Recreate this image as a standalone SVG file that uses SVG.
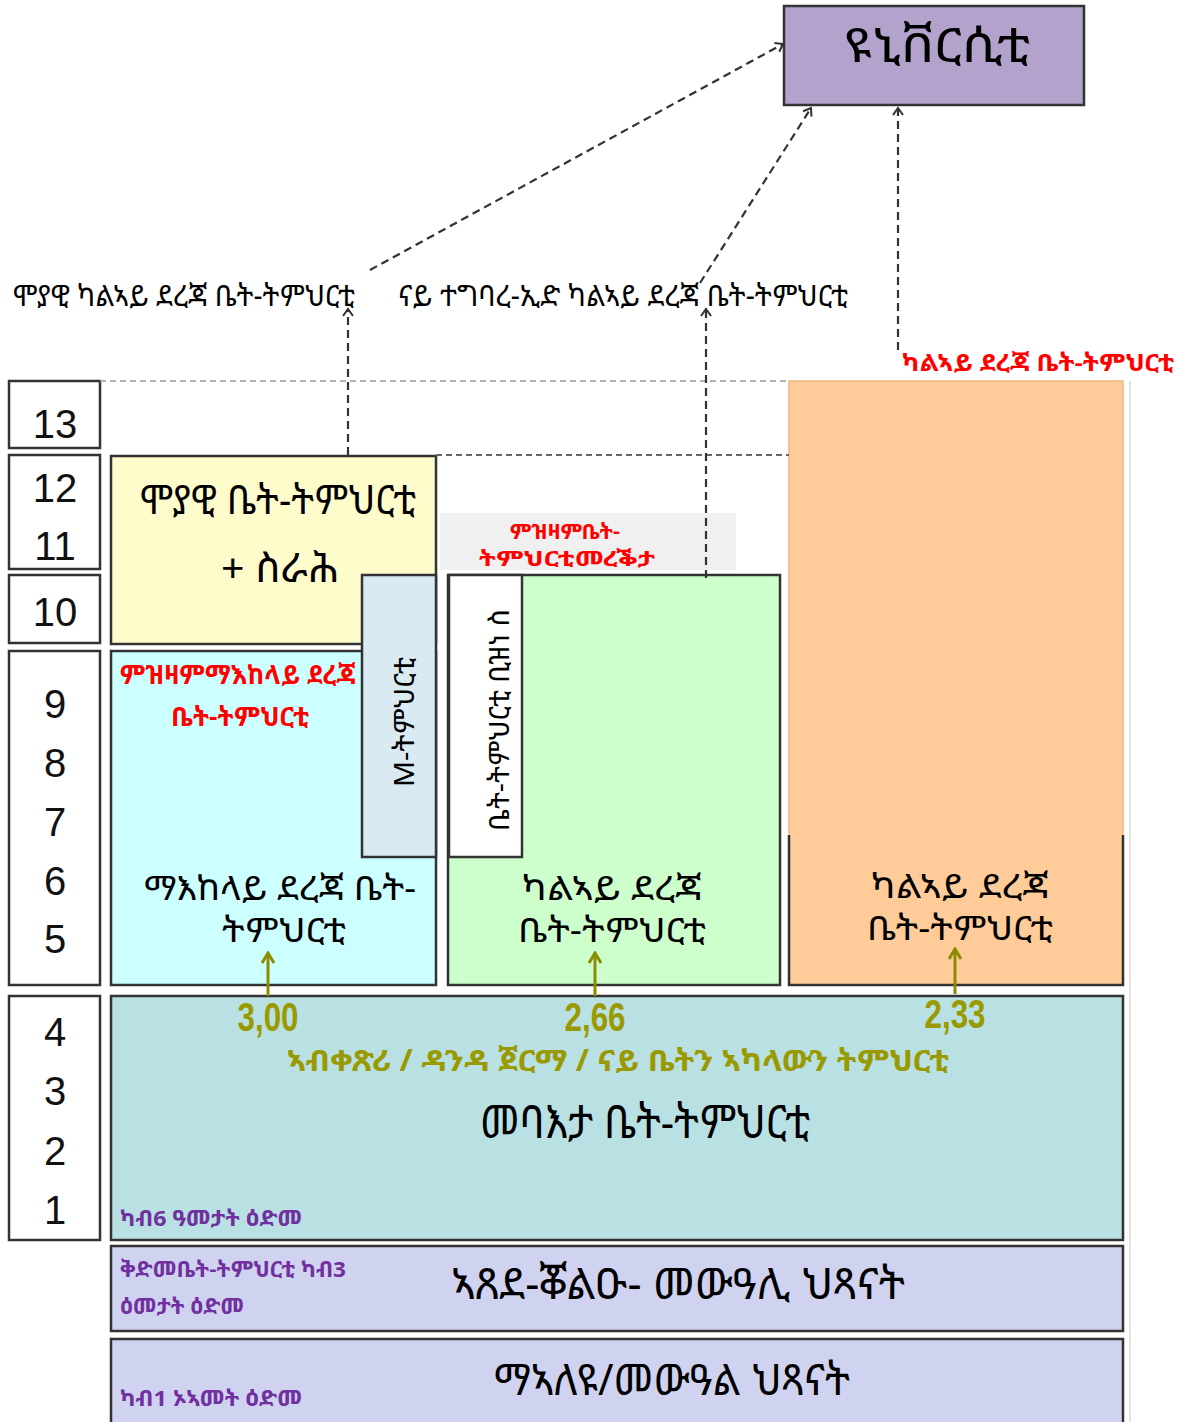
<svg xmlns="http://www.w3.org/2000/svg" width="1194" height="1422" viewBox="0 0 1194 1422">
<style>
.et{font-family:"Noto Sans Ethiopic","Abyssinica SIL","DejaVu Sans","Noto Sans",sans-serif}
.box{stroke:#333;stroke-width:2.5}
.num{font-family:"Liberation Sans",Arial,sans-serif;font-size:40px;fill:#111;text-anchor:middle}
.big{font-size:40px;fill:#000;text-anchor:middle}
.two{font-size:34px;fill:#000;text-anchor:middle}
.lbl{font-size:30px;fill:#000}
.red{fill:#ff0000;font-weight:bold}
.pur{fill:#7030a0;font-size:22px;font-weight:bold}
.ol{fill:#999900;font-weight:bold}
.dash{fill:none;stroke:#333;stroke-width:2.2;stroke-dasharray:8 5}
.olarrow{stroke:#8c8c00;stroke-width:3;fill:none}
</style>
<defs>
<marker id="chev" viewBox="0 0 12 12" refX="10" refY="6" markerWidth="12" markerHeight="12" markerUnits="userSpaceOnUse" orient="auto">
<path d="M3,1 L10,6 L3,11" fill="none" stroke="#333" stroke-width="2"/>
</marker>
<marker id="olh" viewBox="0 0 14 14" refX="12" refY="7" markerWidth="14" markerHeight="14" markerUnits="userSpaceOnUse" orient="auto">
<path d="M2,1 L12,7 L2,13" fill="none" stroke="#8c8c00" stroke-width="3"/>
</marker>
</defs>
<rect width="1194" height="1422" fill="#fff"/>

<g id="grades">
<rect x="9" y="381" width="91" height="67" fill="#fff" class="box"/>
<rect x="9" y="455" width="91" height="114" fill="#fff" class="box"/>
<rect x="9" y="575" width="91" height="68" fill="#fff" class="box"/>
<rect x="9" y="651" width="91" height="334" fill="#fff" class="box"/>
<rect x="9" y="996" width="91" height="244" fill="#fff" class="box"/>
<text class="num" x="55" y="438">13</text>
<text class="num" x="55" y="502">12</text>
<text class="num" x="55" y="560">11</text>
<text class="num" x="55" y="626">10</text>
<text class="num" x="55" y="718">9</text>
<text class="num" x="55" y="777">8</text>
<text class="num" x="55" y="836">7</text>
<text class="num" x="55" y="895">6</text>
<text class="num" x="55" y="953">5</text>
<text class="num" x="55" y="1046">4</text>
<text class="num" x="55" y="1105">3</text>
<text class="num" x="55" y="1165">2</text>
<text class="num" x="55" y="1224">1</text>
</g>

<line x1="1130" y1="381" x2="1130" y2="1422" stroke="#e4e4e4" stroke-width="2"/>

<g id="university">
<rect x="784" y="6" width="300" height="99" fill="#b3a2cb" class="box"/>
<text class="et" x="937" y="62" font-size="48" text-anchor="middle" fill="#000" textLength="186" lengthAdjust="spacingAndGlyphs">ዩኒቨርሲቲ</text>
</g>

<g id="labels-top">
<text class="et lbl" x="13" y="306" textLength="342" lengthAdjust="spacingAndGlyphs">ሞያዊ ካልኣይ ደረጃ ቤት-ትምህርቲ</text>
<text class="et lbl" x="398" y="306" textLength="450" lengthAdjust="spacingAndGlyphs">ናይ ተግባረ-ኢድ ካልኣይ ደረጃ ቤት-ትምህርቲ</text>
<text class="et red" x="902" y="371" font-size="24" textLength="272" lengthAdjust="spacingAndGlyphs">ካልኣይ ደረጃ ቤት-ትምህርቲ</text>
</g>

<g id="orange">
<rect x="789" y="381" width="334" height="604" fill="#ffcc99" stroke="#f0b880" stroke-width="1.5"/>
<path d="M789,835 V985 H1123 V835" fill="none" stroke="#333" stroke-width="2.5"/>
<text class="et two" x="960" y="898" textLength="178" lengthAdjust="spacingAndGlyphs">ካልኣይ ደረጃ</text>
<text class="et two" x="960" y="940" textLength="186" lengthAdjust="spacingAndGlyphs">ቤት-ትምህርቲ</text>
</g>

<g id="yellow">
<rect x="111" y="456" width="325" height="188" fill="#fffccc" class="box"/>
<text class="et big" x="278" y="514" textLength="276" lengthAdjust="spacingAndGlyphs">ሞያዊ ቤት-ትምህርቲ</text>
<text class="et big" x="280" y="582" textLength="118" lengthAdjust="spacingAndGlyphs">+ ስራሕ</text>
</g>

<g id="cyan">
<rect x="111" y="651" width="325" height="334" fill="#ccffff" class="box"/>
<text class="et red" x="120" y="684" font-size="26" textLength="236" lengthAdjust="spacingAndGlyphs">ምዝዛምማእከላይ ደረጃ</text>
<text class="et red" x="240" y="726" font-size="26" text-anchor="middle" textLength="138" lengthAdjust="spacingAndGlyphs">ቤት-ትምህርቲ</text>
<text class="et two" x="280" y="900" textLength="272" lengthAdjust="spacingAndGlyphs">ማእከላይ ደረጃ ቤት-</text>
<text class="et two" x="284" y="942" textLength="124" lengthAdjust="spacingAndGlyphs">ትምህርቲ</text>
</g>

<g id="mschool">
<rect x="362" y="575" width="74" height="282" fill="#daeaf2" class="box"/>
<text class="et" transform="translate(414,722) rotate(-90)" font-size="28" text-anchor="middle" fill="#000" textLength="130" lengthAdjust="spacingAndGlyphs">M-ትምህርቲ</text>
</g>

<g id="graylabel">
<rect x="440" y="513" width="296" height="57" fill="#f0f0f0"/>
<text class="et red" x="565" y="539" font-size="21" text-anchor="middle" textLength="110" lengthAdjust="spacingAndGlyphs">ምዝዛምቤት-</text>
<text class="et red" x="567" y="566" font-size="21" text-anchor="middle" textLength="176" lengthAdjust="spacingAndGlyphs">ትምህርቲመረቕታ</text>
</g>

<g id="green">
<rect x="448" y="575" width="332" height="410" fill="#ccffcc" class="box"/>
<text class="et two" x="612" y="900" textLength="180" lengthAdjust="spacingAndGlyphs">ካልኣይ ደረጃ</text>
<text class="et two" x="612" y="942" textLength="188" lengthAdjust="spacingAndGlyphs">ቤት-ትምህርቲ</text>
</g>

<g id="business">
<rect x="449" y="575" width="73" height="282" fill="#fff" class="box"/>
<text class="et" transform="translate(509,720) rotate(-90)" font-size="28" text-anchor="middle" fill="#000" textLength="222" lengthAdjust="spacingAndGlyphs">ቤት-ትምህርቲ ቢዝነ ስ</text>
</g>

<g id="primary">
<rect x="111" y="996" width="1012" height="244" fill="#b9e0e3" class="box"/>
<text class="num ol" x="268" y="1031" font-size="28" textLength="61" lengthAdjust="spacingAndGlyphs">3,00</text>
<text class="num ol" x="595" y="1031" font-size="28" textLength="61" lengthAdjust="spacingAndGlyphs">2,66</text>
<text class="num ol" x="955" y="1028" font-size="28" textLength="61" lengthAdjust="spacingAndGlyphs">2,33</text>
<text class="et ol" x="618" y="1071" font-size="30" text-anchor="middle" textLength="662" lengthAdjust="spacingAndGlyphs">ኣብቀጽሪ / ዳንዳ ጀርማ / ናይ ቤትን ኣካላውን ትምህርቲ</text>
<text class="et" x="645" y="1138" font-size="46" text-anchor="middle" fill="#000" textLength="330" lengthAdjust="spacingAndGlyphs">መባእታ ቤት-ትምህርቲ</text>
<text class="et pur" x="120" y="1226" textLength="182" lengthAdjust="spacingAndGlyphs">ካብ6 ዓመታት ዕድመ</text>
</g>

<g id="kindergarten">
<rect x="111" y="1246" width="1012" height="85" fill="#d0d3ef" class="box"/>
<text class="et pur" x="120" y="1277" textLength="226" lengthAdjust="spacingAndGlyphs">ቅድመቤት-ትምህርቲ ካብ3</text>
<text class="et pur" x="120" y="1314" textLength="124" lengthAdjust="spacingAndGlyphs">ዕመታት ዕድመ</text>
<text class="et" x="678" y="1299" font-size="44" text-anchor="middle" fill="#000" textLength="454" lengthAdjust="spacingAndGlyphs">ኣጸደ-ቖልዑ- መውዓሊ ህጻናት</text>
</g>

<g id="nursery">
<rect x="111" y="1339" width="1012" height="90" fill="#d0d3ef" class="box"/>
<text class="et pur" x="120" y="1406" textLength="182" lengthAdjust="spacingAndGlyphs">ካብ1 ኦኣመት ዕድመ</text>
<text class="et" x="672" y="1395" font-size="44" text-anchor="middle" fill="#000" textLength="356" lengthAdjust="spacingAndGlyphs">ማኣለዩ/መውዓል ህጻናት</text>
</g>

<g id="connectors">
<line x1="100" y1="381" x2="789" y2="381" stroke="#999" stroke-width="1.5" stroke-dasharray="6 4"/>
<line x1="436" y1="455" x2="789" y2="455" stroke="#666" stroke-width="2" stroke-dasharray="6 4"/>
<line class="dash" x1="348" y1="455" x2="348" y2="309" marker-end="url(#chev)"/>
<line class="dash" x1="706" y1="578" x2="706" y2="309" marker-end="url(#chev)"/>
<line class="dash" x1="898" y1="350" x2="898" y2="108" marker-end="url(#chev)"/>
<line class="dash" x1="370" y1="270" x2="783" y2="44" marker-end="url(#chev)"/>
<line class="dash" x1="700" y1="283" x2="811" y2="108" marker-end="url(#chev)"/>
<line class="olarrow" x1="268" y1="996" x2="268" y2="953" marker-end="url(#olh)"/>
<line class="olarrow" x1="595" y1="996" x2="595" y2="953" marker-end="url(#olh)"/>
<line class="olarrow" x1="955" y1="994" x2="955" y2="949" marker-end="url(#olh)"/>
</g>
</svg>
